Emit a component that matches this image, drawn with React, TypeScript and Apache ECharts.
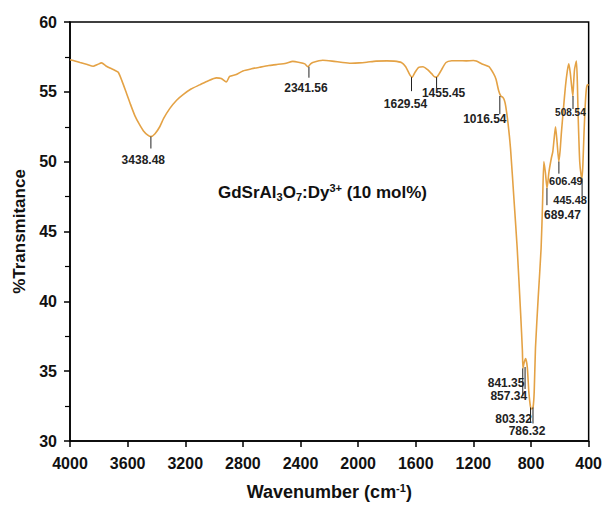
import React, { useEffect, useRef } from "react";
import * as echarts from "echarts";

// Spectrum (wavenumber cm^-1, %Transmittance)
const wavenumbers = [
  4000, 3977, 3930, 3880, 3839, 3810, 3781, 3750, 3723, 3690, 3665, 3640, 3608, 3580, 3550, 3520, 3490, 3460, 3438,
  3410, 3377, 3350, 3308, 3260, 3215, 3160, 3100, 3040, 2984, 2950, 2915, 2892, 2846, 2800, 2740, 2684, 2620, 2569,
  2500, 2454, 2407, 2370, 2350, 2330, 2315, 2246, 2180, 2107, 2050, 1992, 1940, 1876, 1800, 1750, 1700, 1670, 1640,
  1625, 1605, 1580, 1550, 1520, 1490, 1465, 1450, 1420, 1390, 1350, 1300, 1250, 1200, 1180, 1140, 1092, 1060, 1043,
  1025, 1010, 995, 985, 976, 960, 942, 919, 896, 872, 860, 856, 848, 838, 826, 815, 803, 795, 786, 778, 769, 750,
  730, 720, 711, 700, 689, 675, 658, 649, 640, 630, 620, 607, 598, 589, 575, 561, 548, 538, 528, 519, 510, 505, 498,
  485, 478, 473, 462, 452, 446, 440, 432, 424, 416, 408, 400,
];
const transmittance = [
  57.3, 57.25, 57.1, 56.95, 56.83, 56.95, 57.07, 56.85, 56.7, 56.55, 56.4, 55.8, 54.9, 54.1, 53.3, 52.7, 52.2, 51.9, 51.8,
  52.0, 52.5, 53.1, 53.8, 54.4, 54.8, 55.2, 55.5, 55.8, 56.0, 55.95, 55.7, 56.1, 56.24, 56.5, 56.65, 56.76, 56.88, 56.95,
  57.05, 57.18, 57.1, 57.0, 56.8, 57.0, 57.1, 57.26, 57.2, 57.1, 57.05, 57.07, 57.12, 57.2, 57.22, 57.2, 57.1, 56.8, 56.2,
  56.05, 56.4, 56.75, 56.8, 56.6, 56.3, 56.05, 56.1, 56.6, 57.1, 57.22, 57.23, 57.22, 57.24, 57.2, 57.0, 56.8, 56.3, 55.9,
  55.1, 54.7, 54.6, 54.4, 54.0, 52.8, 50.9, 47.4, 43.8, 39.1, 36.5, 35.2, 35.6, 35.9, 35.3, 33.5, 32.4, 32.3, 32.4, 33.5, 36.7, 40.3,
  43.8, 47.0, 50.0, 49.2, 48.1, 49.3, 50.3, 50.7, 51.6, 52.5, 51.5, 50.0, 50.8, 52.1, 53.8, 55.4, 56.5, 57.0, 56.4, 55.5, 54.7, 55.5, 56.6,
  57.2, 55.5, 53.3, 50.0, 49.0, 48.8, 49.8, 52.1, 54.0, 55.2, 55.5, 55.5,
];

// Peak annotations
const annotWave = [3438.48, 2341.56, 1629.54, 1455.45, 1016.54, 508.54, 606.49, 445.48, 689.47, 857.34, 841.35, 803.32, 786.32];
const annotT = [51.8, 56.8, 56.05, 56.05, 54.7, 54.7, 50.0, 48.8, 48.1, 35.2, 35.3, 32.4, 32.4];
const annotLabels = ["3438.48", "2341.56", "1629.54", "1455.45", "1016.54", "508.54", "606.49", "445.48", "689.47", "857.34", "841.35", "803.32", "786.32"];

// layout of annotation markers (px): line length, label offset
const annotLineLen = [12, 11, 14, 11, 18, 13, 12, 18, 17, 28, 22, 15, 16];
const annotDx = [-7.6, -3, -6, 7, -15, -2.6, 7, -12, 15.5, -14, -19, -17, -6];
const annotDy = [23, 21, 27, 16, 23, 16, 19, 22, 27, 28, 16, 11.5, 23.5];
const annotFont = [12, 12, 12, 12, 12, 10, 11, 11, 12, 12, 12, 12, 12];

const xTicks = { min: 400, max: 4000, interval: 400 };
const yTicks = { min: 30, max: 60, interval: 5 };

const FONT = "Liberation Sans, Arial, sans-serif";

export default function App() {
  const ref = useRef<HTMLDivElement>(null);
  useEffect(() => {
    if (!ref.current) return;
    const chart = echarts.init(ref.current, undefined, { renderer: "svg" });
    const lineData = wavenumbers.map((w, i) => [w, transmittance[i]]);
    const annData = annotWave.map((w, i) => [w, annotT[i]]);
    chart.setOption({
      animation: false,
      backgroundColor: "#fff",
      grid: { left: 70, right: 15, top: 22, bottom: 61, show: true, borderColor: "#000", borderWidth: 1.5, backgroundColor: "transparent" },
      xAxis: {
        type: "value",
        inverse: true,
        min: xTicks.min,
        max: xTicks.max,
        interval: xTicks.interval,
        axisLine: { lineStyle: { color: "#000", width: 1.5 } },
        axisTick: { show: true, inside: false, length: 6, lineStyle: { color: "#000", width: 1.5 } },
        axisLabel: { color: "#111", fontSize: 16, fontWeight: "bold", fontFamily: FONT, margin: 14, formatter: (v: number) => String(v) },
        splitLine: { show: false },
        name: "{a|Wavenumber (cm}{s|-1}{a|)}",
        nameLocation: "middle",
        nameGap: 41,
        nameTextStyle: {
          rich: {
            a: { fontSize: 18, fontWeight: "bold", fontFamily: FONT, color: "#111" },
            s: { fontSize: 11, fontWeight: "bold", fontFamily: FONT, color: "#111", padding: [0, 0, 9, 0] },
          },
        },
      },
      yAxis: {
        type: "value",
        min: yTicks.min,
        max: yTicks.max,
        interval: yTicks.interval,
        axisLine: { show: true, lineStyle: { color: "#000", width: 1.5 } },
        axisTick: { show: true, inside: false, length: 6, lineStyle: { color: "#000", width: 1.5 } },
        minorTick: { show: true, splitNumber: 2, length: 5, lineStyle: { color: "#000", width: 1.2 } },
        axisLabel: { color: "#111", fontSize: 16, fontWeight: "bold", fontFamily: FONT, margin: 13 },
        splitLine: { show: false },
        name: "%Transmitance",
        nameLocation: "middle",
        nameGap: 41,
        nameTextStyle: { fontSize: 17, fontWeight: "bold", fontFamily: FONT, color: "#111" },
      },
      graphic: [
        {
          type: "text",
          left: 218,
          top: 182,
          style: {
            text: "{a|GdSrAl}{b|3}{a|O}{b|7}{a|:Dy}{c|3+}{a| (10 mol%)}",
            rich: {
              a: { fontSize: 17, fontWeight: "bold", fontFamily: FONT, fill: "#111" },
              b: { fontSize: 11, fontWeight: "bold", fontFamily: FONT, fill: "#111", padding: [9, 0, 0, 0] },
              c: { fontSize: 11, fontWeight: "bold", fontFamily: FONT, fill: "#111", padding: [0, 0, 9, 0] },
            },
          },
        },
      ],
      series: [
        {
          type: "line",
          data: lineData,
          showSymbol: false,
          smooth: 0.2,
          lineStyle: { color: "#E4A245", width: 1.6 },
          z: 2,
        },
        {
          type: "custom",
          data: annData,
          z: 3,
          renderItem: (params: any, api: any) => {
            const i = params.dataIndex;
            const p = api.coord([api.value(0), api.value(1)]);
            const len = annotLineLen[i];
            return {
              type: "group",
              children: [
                {
                  type: "line",
                  shape: { x1: p[0], y1: p[1], x2: p[0], y2: p[1] + len },
                  style: { stroke: "#222", lineWidth: 1 },
                },
                {
                  type: "text",
                  x: p[0] + annotDx[i],
                  y: p[1] + annotDy[i],
                  style: {
                    text: annotLabels[i],
                    fontSize: annotFont[i],
                    fontWeight: "bold",
                    fontFamily: FONT,
                    fill: "#222",
                    align: "center",
                    verticalAlign: "middle",
                  },
                },
              ],
            };
          },
        },
      ],
    });
    return () => chart.dispose();
  }, []);
  return <div ref={ref} style={{ position: "fixed", left: 0, top: 0, width: 605, height: 506 }} />;
}
